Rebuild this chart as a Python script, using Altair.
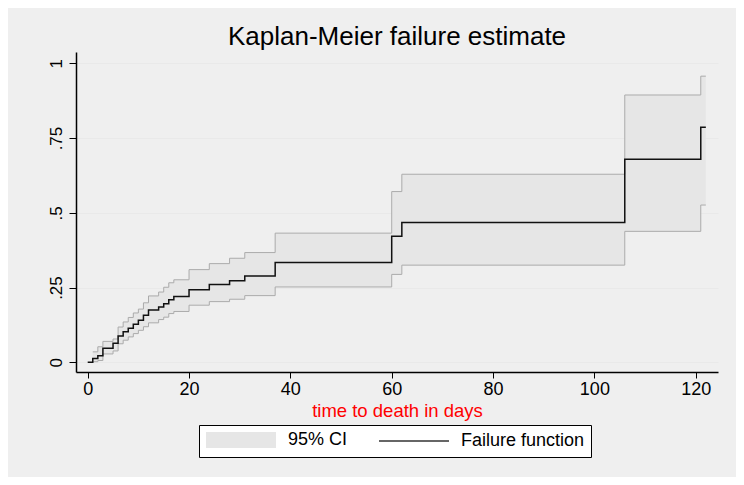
import altair as alt
import pandas as pd

# ---- data ----
times = [0, 1, 2, 3, 5, 6, 7, 8, 9, 10, 11, 12, 14, 15, 16, 17, 20, 24, 28, 31, 37, 60, 62, 106, 121, 122]
failure = [0, 0.013, 0.022, 0.047, 0.064, 0.088, 0.102, 0.114, 0.127, 0.141, 0.157, 0.175, 0.185,
           0.196, 0.209, 0.220, 0.243, 0.260, 0.273, 0.289, 0.334, 0.422, 0.468, 0.679, 0.786, 0.786]
ci_times = times[1:]
ci_lower = [0.002, 0.006, 0.028, 0.038, 0.062, 0.074, 0.085, 0.096, 0.107, 0.119, 0.132, 0.143,
            0.151, 0.163, 0.170, 0.191, 0.203, 0.211, 0.223, 0.252, 0.294, 0.325, 0.438, 0.526, 0.526]
ci_upper = [0.035, 0.052, 0.070, 0.078, 0.118, 0.135, 0.150, 0.165, 0.178, 0.199, 0.222, 0.235,
            0.251, 0.266, 0.276, 0.310, 0.330, 0.348, 0.367, 0.432, 0.571, 0.629, 0.894, 0.957, 0.957]
legend_labels = ["95% CI", "Failure function"]
x_ticks = [0, 20, 40, 60, 80, 100, 120]
y_ticks = [0, 0.25, 0.5, 0.75, 1]
y_tick_labels = ["0", ".25", ".5", ".75", "1"]

FONT = "Liberation Sans, Arial, sans-serif"
BAND = "#e6e6e6"
BAND_EDGE = "#ababab"

km_df = pd.DataFrame({"t": times, "F": failure})
ci_df = pd.DataFrame({"t": ci_times, "lo": ci_lower, "hi": ci_upper})
leg_df = pd.DataFrame({"key": legend_labels})

ylabel_expr = " : ".join(
    f"datum.value == {v} ? '{lab}'" for v, lab in zip(y_ticks, y_tick_labels)
) + " : ''"

xscale = alt.Scale(domain=[-2.31, 124.4], nice=False, zero=False)
yscale = alt.Scale(domain=[-0.0324, 1.0378], nice=False, zero=False)

xaxis = alt.Axis(values=x_ticks, grid=False, title="time to death in days",
                 titleColor="#ff0000", titleFont=FONT, titleFontSize=18.5, titleFontWeight="normal",
                 titlePadding=3, labelFont=FONT, labelFontSize=18, labelColor="black",
                 labelPadding=2, tickSize=6, tickColor="black", tickWidth=1,
                 domainColor="black", domainWidth=1.5, labelFlush=False)
yaxis = alt.Axis(values=y_ticks, labelExpr=ylabel_expr, title=None, grid=True,
                 gridColor="#e9e9e9", gridWidth=1, labelAngle=270, labelAlign="center",
                 labelBaseline="bottom", labelFont=FONT, labelFontSize=17, labelColor="black",
                 labelPadding=4, tickSize=7, tickColor="black", tickWidth=1,
                 domainColor="black", domainWidth=1.5, labelFlush=False)

band = alt.Chart(ci_df).mark_area(interpolate="step-after", color=BAND).encode(
    x=alt.X("t:Q", scale=xscale, axis=xaxis),
    y=alt.Y("lo:Q", scale=yscale, axis=yaxis),
    y2="hi:Q",
)
lo_line = alt.Chart(ci_df).mark_line(interpolate="step-after", color=BAND_EDGE, strokeWidth=1).encode(
    x="t:Q", y="lo:Q")
hi_line = alt.Chart(ci_df).mark_line(interpolate="step-after", color=BAND_EDGE, strokeWidth=1).encode(
    x="t:Q", y="hi:Q")
km_line = alt.Chart(km_df).mark_line(interpolate="step-after", color="#111111", strokeWidth=1.5).encode(
    x="t:Q", y="F:Q")

rect_path = "M-1,-1H7.75V1H-1Z"
line_path = "M-1,0H7.75"
leg = alt.Legend(title=None, orient="none", legendX=123, legendY=373, direction="horizontal",
                 columns=2, columnPadding=28, symbolSize=256, symbolStrokeWidth=1.5,
                 labelOffset=65, labelFont=FONT, labelFontSize=18, labelColor="black",
                 labelLimit=400, padding=6, strokeColor="black", fillColor="white",
                 symbolFillColor=BAND, symbolStrokeColor="#333333", symbolOpacity=1)

legend_layer = alt.Chart(leg_df).transform_filter("false").mark_point().encode(
    fill=alt.Fill("key:N", scale=alt.Scale(domain=legend_labels, range=[BAND, "transparent"]), legend=leg),
    stroke=alt.Stroke("key:N", scale=alt.Scale(domain=legend_labels, range=["transparent", "#333333"]), legend=leg),
    shape=alt.Shape("key:N", scale=alt.Scale(domain=legend_labels, range=[rect_path, line_path]), legend=leg),
)

chart = alt.layer(band, lo_line, hi_line, km_line, legend_layer).properties(
    width=642, height=320,
    title=alt.TitleParams("Kaplan-Meier failure estimate", font=FONT, fontSize=26,
                          fontWeight="normal", color="black", anchor="middle", offset=2),
    background="#efefef",
    autosize=alt.AutoSizeParams(type="none"),
    padding={"left": 68, "top": 44, "right": 18, "bottom": 105},
).configure_view(fill="white", stroke="transparent")

chart.save("out.html", embed_options={"renderer": "svg", "actions": False})
